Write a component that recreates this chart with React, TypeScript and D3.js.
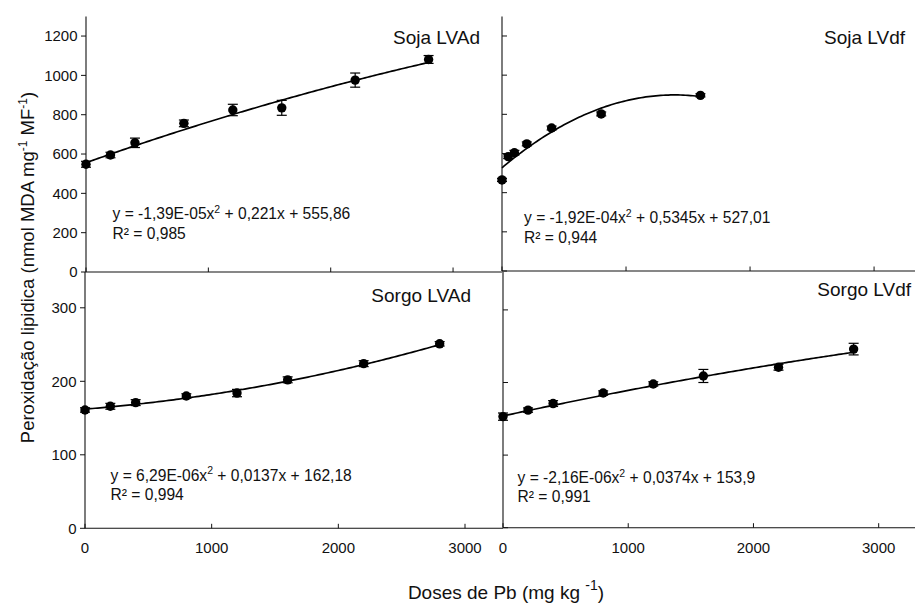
import React from "react";
import * as d3 from "d3";

// ---------- data ----------
const doseSojaLVAd = [0, 200, 400, 800, 1200, 1600, 2200, 2800];
const sojaLVAd = [548, 595, 657, 756, 824, 835, 976, 1081];
const sojaLVAdErr = [15, 14, 24, 17, 29, 38, 36, 20];

const doseSojaLVdf = [0, 50, 100, 200, 400, 800, 1600];
const sojaLVdf = [465, 584, 604, 649, 730, 802, 897];
const sojaLVdfErr = [8, 10, 12, 10, 10, 10, 8];

const doseSorgo = [0, 200, 400, 800, 1200, 1600, 2200, 2800];
const sorgoLVAd = [161, 166, 171, 180, 184, 202, 224, 251];
const sorgoLVAdErr = [3, 4, 4, 3, 5, 4, 4, 3];
const sorgoLVdf = [153, 162, 171, 185.5, 198, 209, 221, 246];
const sorgoLVdfErr = [5, 3, 4, 3, 3, 9, 4, 8];

// regression coefficients [a, b, c] for y = a x^2 + b x + c, and fitted range
const fitSojaLVAd = [-1.39e-5, 0.221, 555.86];
const fitSojaLVdf = [-1.92e-4, 0.5345, 527.01];
const fitSorgoLVAd = [6.29e-6, 0.0137, 162.18];
const fitSorgoLVdf = [-2.16e-6, 0.0374, 153.9];
const fitMax = [2800, 1600, 2800, 2800];

const titles = ["Soja LVAd", "Soja LVdf", "Sorgo LVAd", "Sorgo LVdf"];
const eqA = ["-1,39E-05", "-1,92E-04", "6,29E-06", "-2,16E-06"];
const eqRest = [" + 0,221x + 555,86", " + 0,5345x + 527,01", " + 0,0137x + 162,18", " + 0,0374x + 153,9"];
const r2 = ["0,985", "0,944", "0,994", "0,991"];

const xTicks = [0, 1000, 2000, 3000];
const yTicksSoja = [0, 200, 400, 600, 800, 1000, 1200];
const yTicksSorgo = [0, 100, 200, 300];

// ---------- layout ----------
const FONT = "'Liberation Sans', Arial, Helvetica, sans-serif";

type Panel = {
  doses: number[];
  values: number[];
  errs: number[];
  fit: number[];
  xr: [number, number];
  xmax: number;
  yr: [number, number];
  ymax: number;
  yTicks: number[];
  leftPanel: boolean;
  bottomPanel: boolean;
  title: [number, number];
  eq: [number, number];
  r2y: number;
};

const panels: Panel[] = [
  {
    doses: doseSojaLVAd, values: sojaLVAd, errs: sojaLVAdErr, fit: fitSojaLVAd,
    xr: [86, 502], xmax: 3400, yr: [272, 16.4], ymax: 1300, yTicks: yTicksSoja,
    leftPanel: true, bottomPanel: false, title: [480, 43.5], eq: [112.5, 219], r2y: 239,
  },
  {
    doses: doseSojaLVdf, values: sojaLVdf, errs: sojaLVdfErr, fit: fitSojaLVdf,
    xr: [502, 915], xmax: 3330, yr: [271, 16.4], ymax: 1300, yTicks: yTicksSoja,
    leftPanel: false, bottomPanel: false, title: [905, 43.5], eq: [524, 223], r2y: 243,
  },
  {
    doses: doseSorgo, values: sorgoLVAd, errs: sorgoLVAdErr, fit: fitSorgoLVAd,
    xr: [85, 503], xmax: 3300, yr: [528.3, 271.05], ymax: 350, yTicks: yTicksSorgo,
    leftPanel: true, bottomPanel: true, title: [471, 302], eq: [110.5, 480.5], r2y: 500,
  },
  {
    doses: doseSorgo, values: sorgoLVdf, errs: sorgoLVdfErr, fit: fitSorgoLVdf,
    xr: [503, 915], xmax: 3290, yr: [527.7, 273.6], ymax: 350, yTicks: yTicksSorgo,
    leftPanel: false, bottomPanel: true, title: [911, 296], eq: [517.5, 483], r2y: 502,
  },
];

function PanelView({ p, i }: { p: Panel; i: number }) {
  const x = d3.scaleLinear().domain([0, p.xmax]).range(p.xr);
  const y = d3.scaleLinear().domain([0, p.ymax]).range(p.yr);
  const [a, b, c] = p.fit;
  const samples = d3.range(0, fitMax[i] + 1, 20);
  const line = d3
    .line<number>()
    .x((d) => x(d))
    .y((d) => y(a * d * d + b * d + c))
    .curve(d3.curveLinear);
  const x0 = p.xr[0];
  const yBase = p.yr[0];
  const yTopLine = p.bottomPanel ? 272 : 16.4;
  return (
    <g>
      {/* axes */}
      <line x1={x0} x2={x0} y1={yTopLine} y2={yBase} stroke="#111" strokeWidth={1.1} />
      <line x1={x0} x2={p.xr[1]} y1={yBase} y2={yBase} stroke="#111" strokeWidth={1.1} />
      {xTicks.map((t) => (
        <g key={"xt" + t}>
          <line x1={x(t)} x2={x(t)} y1={yBase} y2={yBase - 4.5} stroke="#111" strokeWidth={1} />
          {p.bottomPanel && (
            <text x={x(t)} y={553} textAnchor="middle" fontSize={15} fontFamily={FONT} fill="#111">
              {t}
            </text>
          )}
        </g>
      ))}
      {p.yTicks.map((t) => (
        <g key={"yt" + t}>
          {p.leftPanel ? (
            <line x1={x0} x2={x0 - 5} y1={y(t)} y2={y(t)} stroke="#111" strokeWidth={1} />
          ) : (
            <line x1={x0} x2={x0 + 5} y1={y(t)} y2={y(t)} stroke="#111" strokeWidth={1} />
          )}
          {p.leftPanel && (
            <text x={x0 - 8.5} y={y(t)} dy="0.36em" textAnchor="end" fontSize={15} fontFamily={FONT} fill="#111">
              {t}
            </text>
          )}
        </g>
      ))}
      {/* fitted curve */}
      <path d={line(samples) || ""} fill="none" stroke="#000" strokeWidth={1.7} />
      {/* error bars and points */}
      {p.doses.map((d, k) => {
        const cx = x(d);
        const v = p.values[k];
        const e = p.errs[k];
        return (
          <g key={"pt" + k}>
            <line x1={cx} x2={cx} y1={y(v - e)} y2={y(v + e)} stroke="#000" strokeWidth={1.2} />
            <line x1={cx - 5} x2={cx + 5} y1={y(v + e)} y2={y(v + e)} stroke="#000" strokeWidth={1.2} />
            <line x1={cx - 5} x2={cx + 5} y1={y(v - e)} y2={y(v - e)} stroke="#000" strokeWidth={1.2} />
            <circle cx={cx} cy={y(v)} r={4.7} fill="#000" />
          </g>
        );
      })}
      {/* title */}
      <text x={p.title[0]} y={p.title[1]} textAnchor="end" fontSize={19} fontFamily={FONT} fill="#111">
        {titles[i]}
      </text>
      {/* equation */}
      <text x={p.eq[0]} y={p.eq[1]} fontSize={15.6} fontFamily={FONT} fill="#111">
        {"y = " + eqA[i] + "x"}
        <tspan dy={-6.5} fontSize={10.5}>2</tspan>
        <tspan dy={6.5}>{eqRest[i]}</tspan>
      </text>
      <text x={p.eq[0]} y={p.r2y} fontSize={15.6} fontFamily={FONT} fill="#111">
        {"R\u00B2 = " + r2[i]}
      </text>
    </g>
  );
}

export default function App() {
  return (
    <svg
      width={915}
      height={604}
      viewBox="0 0 915 604"
      style={{ position: "absolute", left: 0, top: 0, background: "#fff" }}
    >
      <rect x={0} y={0} width={915} height={604} fill="#fff" />
      {panels.map((p, i) => (
        <PanelView key={i} p={p} i={i} />
      ))}
      {/* y-axis label */}
      <text
        transform="translate(34,267.5) rotate(-90)"
        textAnchor="middle"
        fontSize={18.5}
        fontFamily={FONT}
        fill="#111"
      >
        {"Peroxidação lipidica (nmol MDA mg"}
        <tspan dy={-7} fontSize={12}>-1</tspan>
        <tspan dy={7}>{" MF"}</tspan>
        <tspan dy={-7} fontSize={12}>-1</tspan>
        <tspan dy={7}>)</tspan>
      </text>
      {/* x-axis label */}
      <text x={506} y={598.5} textAnchor="middle" fontSize={19} fontFamily={FONT} fill="#111">
        {"Doses de Pb (mg kg "}
        <tspan dy={-9} fontSize={14}>-1</tspan>
        <tspan dy={9}>)</tspan>
      </text>
    </svg>
  );
}
